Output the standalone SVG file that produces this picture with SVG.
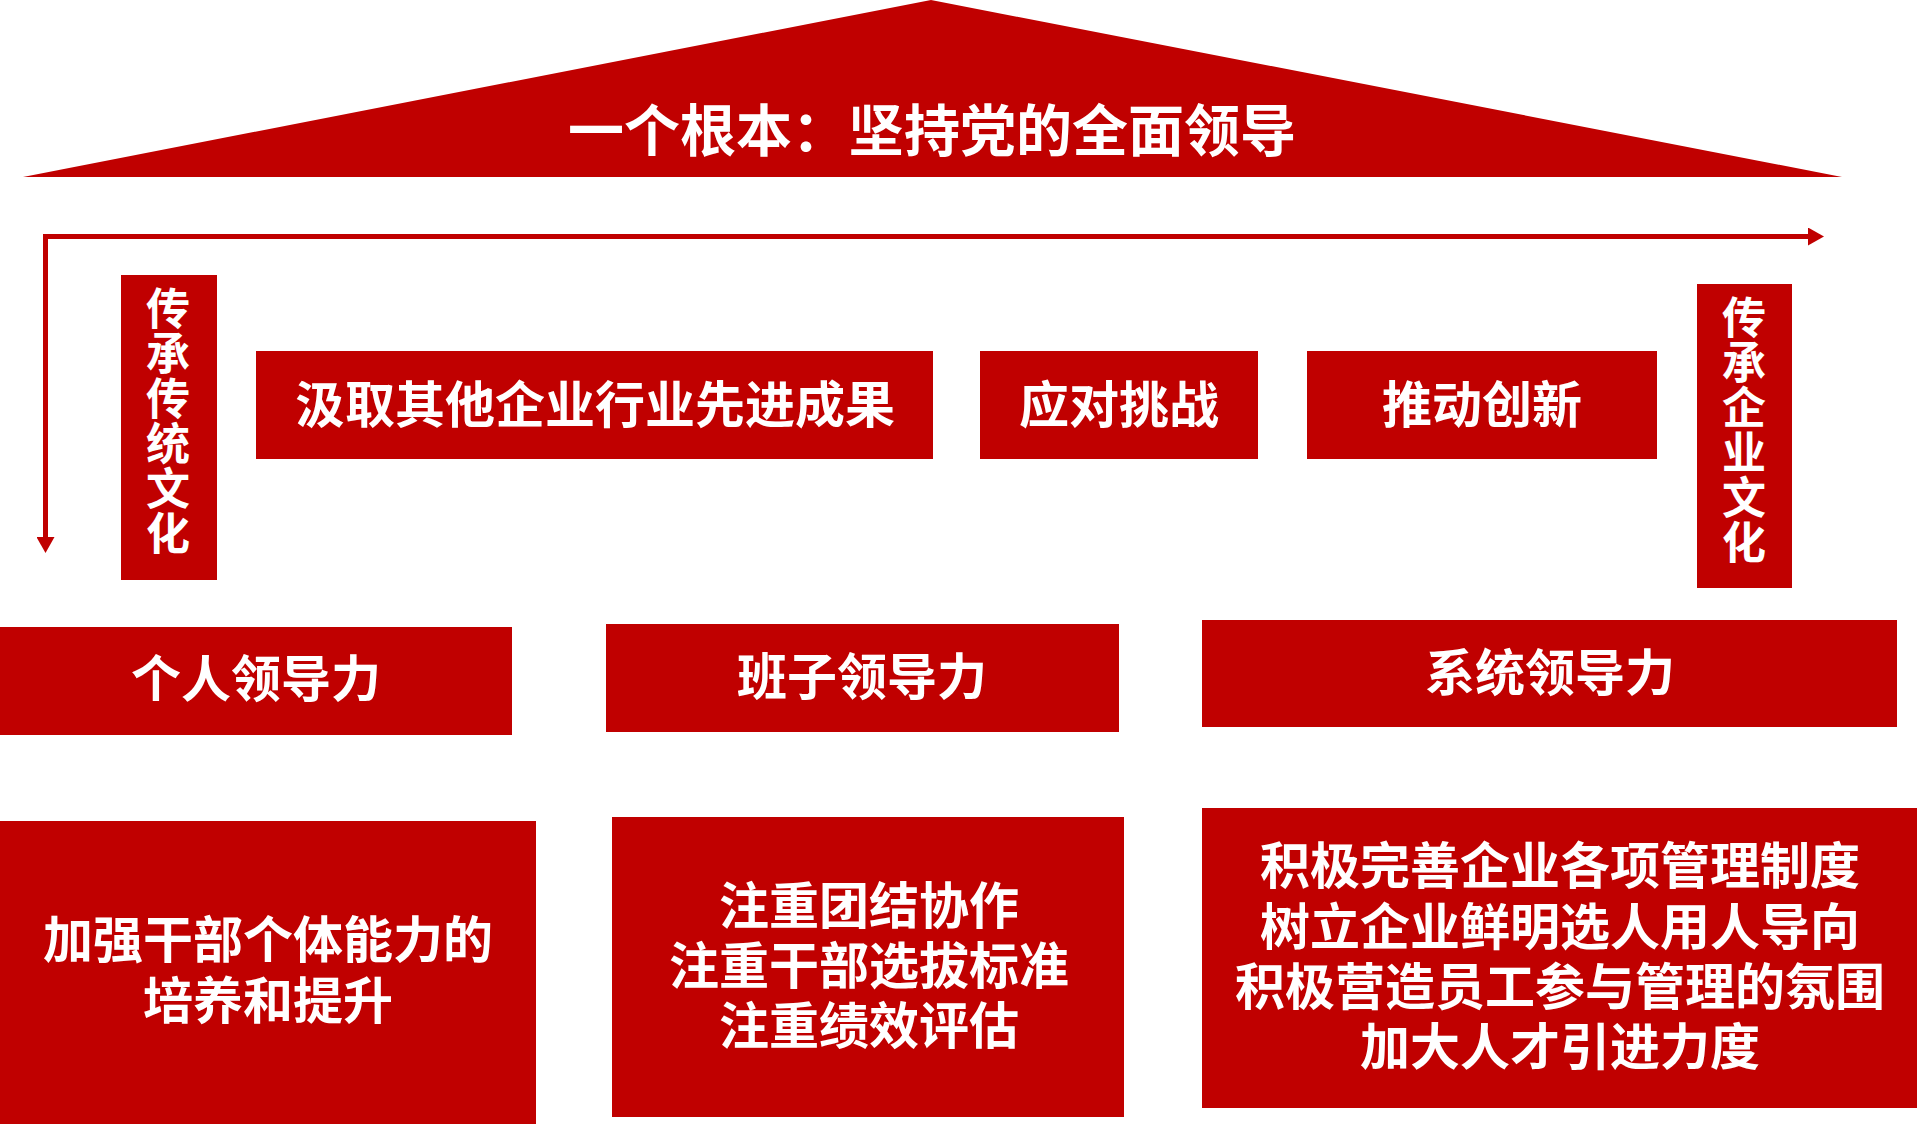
<svg xmlns="http://www.w3.org/2000/svg" width="1920" height="1124" viewBox="0 0 1920 1124">
<style>
.box{fill:#C00000}
.t{fill:#FFFFFF;font-family:"Noto Sans CJK SC","Noto Sans",sans-serif;font-weight:700;text-anchor:middle}
.v{fill:#FFFFFF;font-family:"Noto Sans CJK SC","Noto Sans",sans-serif;font-weight:700;font-size:44px;writing-mode:vertical-rl;text-anchor:start;letter-spacing:1px}
.f50{font-size:50px}
.f56{font-size:56px}
.conn{fill:none;stroke:#C00000;stroke-width:5;stroke-linejoin:miter}
</style>
<defs>
<marker id="ah" viewBox="0 0 16 18" refX="0" refY="9" markerWidth="16" markerHeight="18" markerUnits="userSpaceOnUse" orient="auto-start-reverse">
<path d="M0,0 L16,9 L0,18 z" fill="#C00000"/>
</marker>
</defs>
<rect width="1920" height="1124" fill="#FFFFFF"/>
<g id="roof">
<polygon class="box" points="931,0 1842,177 23,177"/>
<text class="t f56" x="932" y="151">一个根本：坚持党的全面领导</text>
</g>
<g id="connectors">
<path class="conn" d="M45.5,537 V236.5 H1808" marker-start="url(#ah)" marker-end="url(#ah)"/>
</g>
<g id="left-culture">
<rect class="box" x="121" y="275" width="96" height="305"/>
<text class="v" x="168" y="286">传承传统文化</text>
</g>
<g id="right-culture">
<rect class="box" x="1697" y="284" width="95" height="304"/>
<text class="v" x="1744" y="295">传承企业文化</text>
</g>
<g id="absorb">
<rect class="box" x="256" y="351" width="677" height="108"/>
<text class="t f50" x="595" y="423">汲取其他企业行业先进成果</text>
</g>
<g id="challenge">
<rect class="box" x="980" y="351" width="278" height="108"/>
<text class="t f50" x="1119" y="423">应对挑战</text>
</g>
<g id="innovate">
<rect class="box" x="1307" y="351" width="350" height="108"/>
<text class="t f50" x="1482" y="423">推动创新</text>
</g>
<g id="personal">
<rect class="box" x="0" y="627" width="512" height="108"/>
<text class="t f50" x="256" y="697">个人领导力</text>
</g>
<g id="team">
<rect class="box" x="606" y="624" width="513" height="108"/>
<text class="t f50" x="862" y="695">班子领导力</text>
</g>
<g id="system">
<rect class="box" x="1202" y="620" width="695" height="107"/>
<text class="t f50" x="1550" y="691">系统领导力</text>
</g>
<g id="personal-detail">
<rect class="box" x="0" y="821" width="536" height="303"/>
<text class="t f50"><tspan x="268" y="958">加强干部个体能力的</tspan><tspan x="268" y="1019">培养和提升</tspan></text>
</g>
<g id="team-detail">
<rect class="box" x="612" y="817" width="512" height="300"/>
<text class="t f50"><tspan x="869" y="924">注重团结协作</tspan><tspan x="869" y="984">注重干部选拔标准</tspan><tspan x="869" y="1044">注重绩效评估</tspan></text>
</g>
<g id="system-detail">
<rect class="box" x="1202" y="808" width="715" height="300"/>
<text class="t f50"><tspan x="1560" y="884">积极完善企业各项管理制度</tspan><tspan x="1560" y="945">树立企业鲜明选人用人导向</tspan><tspan x="1560" y="1005">积极营造员工参与管理的氛围</tspan><tspan x="1560" y="1065">加大人才引进力度</tspan></text>
</g>
</svg>
